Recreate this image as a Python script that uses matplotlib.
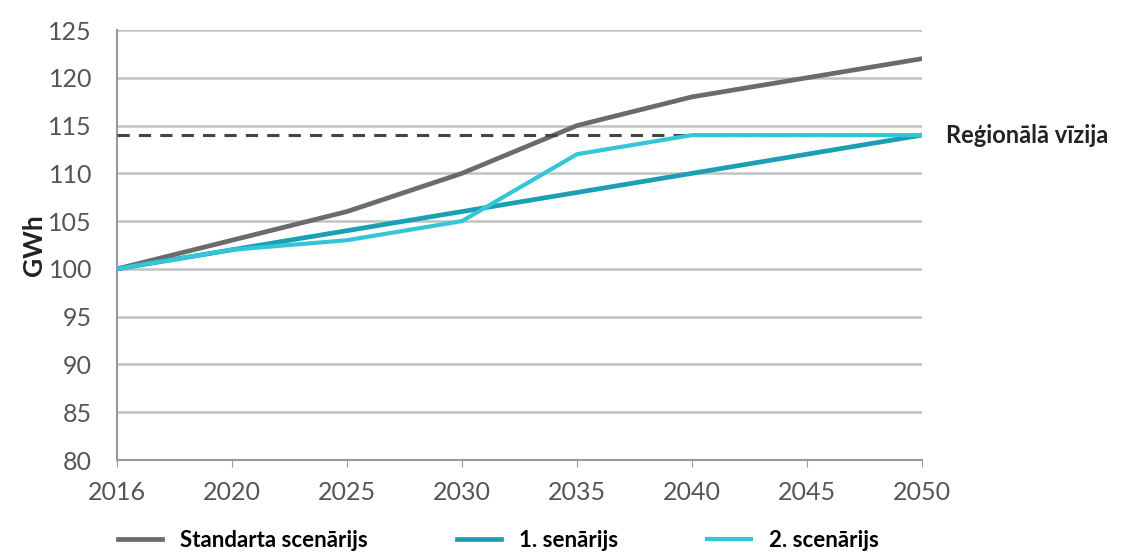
import matplotlib.pyplot as plt
import numpy as np

years = ["2016", "2020", "2025", "2030", "2035", "2040", "2045", "2050"]
standarta = [100, 103, 106, 110, 115, 118, 120, 122]
scen1 = [100, 102, 104, 106, 108, 110, 112, 114]
scen2 = [100, 102, 103, 105, 112, 114, 114, 114]
regionala = 114

plt.rcParams['font.family'] = ['Lato', 'DejaVu Sans']

fig = plt.figure(figsize=(11.33, 5.57), dpi=100)
ax = fig.add_axes([117/1133, 1-460/557, (922-117)/1133, (460-30)/557])

x = np.arange(len(years))
ax.plot(x, standarta, color="#6b6b6d", lw=3.4, label="Standarta scenārijs", zorder=3)
ax.plot(x, scen1, color="#1b9fb2", lw=3.4, label="1. senārijs", zorder=4)
ax.plot(x, scen2, color="#33c6d8", lw=3.0, label="2. scenārijs", zorder=5)
ax.axhline(regionala, color="#444444", lw=2.2, ls=(0, (4, 3)), zorder=3)
ax.text(1.03, regionala, "Reģionālā vīzija", transform=ax.get_yaxis_transform(),
        va="center", ha="left", fontsize=17, fontweight="bold", color="#222222")

ax.set_xlim(0, len(years) - 1)
ax.set_ylim(80, 125)
ax.set_xticks(x)
ax.set_xticklabels(years)
ax.set_yticks(np.arange(80, 126, 5))
ax.grid(axis="y", color="#c2c2c2", lw=1.8)
ax.set_axisbelow(True)
for s in ["top", "right"]:
    ax.spines[s].set_visible(False)
ax.spines["left"].set_color("#9a9a9a")
ax.spines["bottom"].set_color("#9a9a9a")
ax.spines["left"].set_linewidth(1.5)
ax.spines["bottom"].set_linewidth(1.5)
ax.tick_params(axis="both", colors="#9a9a9a", labelcolor="#555555", labelsize=18, length=5)
ax.tick_params(axis="x", pad=10)
ax.tick_params(axis="y", length=0, pad=18)
ax.set_ylabel("GWh", fontsize=19, fontweight="bold", color="#222222", labelpad=2)

fig.legend(loc="lower center", ncol=3, bbox_to_anchor=(0.44, -0.025), frameon=False,
           handlelength=2.0, columnspacing=4.0,
           prop={"weight": "bold", "size": 16})

fig.savefig("out.png", dpi=100)
